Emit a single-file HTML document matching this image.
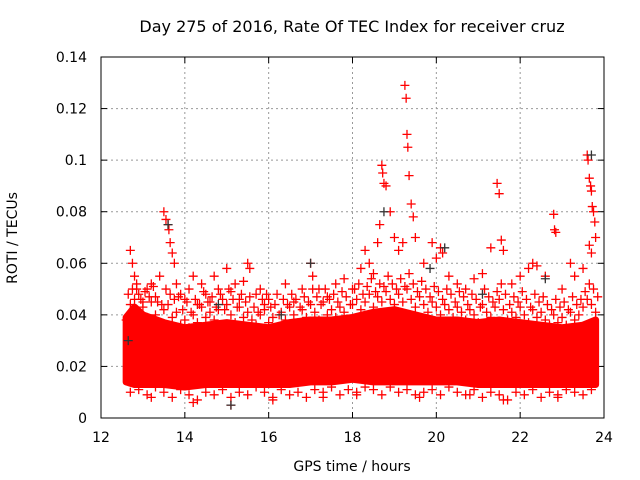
<!DOCTYPE html>
<html><head><meta charset="utf-8"><style>
body{margin:0;background:#fff;}
svg{display:block;font-family:"DejaVu Sans","Liberation Sans",sans-serif;}
</style></head><body>
<svg id="chart" width="640" height="480" viewBox="0 0 640 480">
<text x="352" y="32" text-anchor="middle" font-size="16">Day 275 of 2016, Rate Of TEC Index for receiver cruz</text>
<text x="352" y="471" text-anchor="middle" font-size="14">GPS time / hours</text>
<text transform="translate(17,238) rotate(-90)" text-anchor="middle" font-size="14">ROTI / TECUs</text>
<g id="grid"></g><g id="ticks"></g><g id="marks"></g>
<rect x="101" y="57" width="503" height="361" fill="none" stroke="#000" stroke-width="1"/>
</svg>
<script>
const xTicks=[12,14,16,18,20,22,24];
const yTicks=[0,0.02,0.04,0.06,0.08,0.1,0.12,0.14];
const yTickLabels=["0","0.02","0.04","0.06","0.08","0.1","0.12","0.14"];
const envHours=[12.6,12.8,13,13.5,14,14.5,15,15.5,16,16.5,17,17.5,18,18.5,19,19.5,20,20.5,21,21.5,22,22.5,23,23.5,23.8];
const envLow=[0.014,0.013,0.013,0.013,0.012,0.013,0.013,0.013,0.013,0.013,0.014,0.014,0.015,0.014,0.014,0.014,0.014,0.014,0.013,0.013,0.013,0.013,0.013,0.013,0.013];
const envHigh=[0.039,0.043,0.040,0.037,0.035,0.036,0.037,0.036,0.035,0.037,0.038,0.038,0.039,0.041,0.042,0.040,0.038,0.038,0.037,0.038,0.037,0.036,0.035,0.036,0.038];
const fringeHours=[12.6,12.7,12.8,12.9,13.0,13.1,13.2,13.3,13.4,13.5,13.6,13.7,13.8,13.9,14.0,14.1,14.2,14.3,14.4,14.5,14.6,14.7,14.8,14.9,15.0,15.1,15.2,15.3,15.4,15.5,15.6,15.7,15.8,15.9,16.0,16.1,16.2,16.3,16.4,16.5,16.6,16.7,16.8,16.9,17.0,17.1,17.2,17.3,17.4,17.5,17.6,17.7,17.8,17.9,18.0,18.1,18.2,18.3,18.4,18.5,18.6,18.7,18.8,18.9,19.0,19.1,19.2,19.3,19.4,19.5,19.6,19.7,19.8,19.9,20.0,20.1,20.2,20.3,20.4,20.5,20.6,20.7,20.8,20.9,21.0,21.1,21.2,21.3,21.4,21.5,21.6,21.7,21.8,21.9,22.0,22.1,22.2,22.3,22.4,22.5,22.6,22.7,22.8,22.9,23.0,23.1,23.2,23.3,23.4,23.5,23.6,23.7,23.8];
const fringeVals=[0.038,0.044,0.046,0.041,0.043,0.039,0.045,0.040,0.037,0.042,0.044,0.039,0.041,0.036,0.038,0.035,0.040,0.037,0.043,0.039,0.041,0.038,0.042,0.036,0.044,0.040,0.037,0.043,0.039,0.041,0.038,0.036,0.040,0.042,0.037,0.039,0.035,0.041,0.038,0.043,0.040,0.037,0.042,0.039,0.044,0.041,0.038,0.045,0.040,0.042,0.039,0.043,0.041,0.038,0.044,0.046,0.042,0.045,0.048,0.043,0.047,0.045,0.049,0.046,0.044,0.048,0.045,0.050,0.046,0.043,0.047,0.044,0.041,0.045,0.043,0.040,0.044,0.042,0.039,0.043,0.041,0.038,0.042,0.040,0.037,0.044,0.041,0.039,0.043,0.046,0.042,0.038,0.041,0.039,0.043,0.040,0.037,0.042,0.039,0.041,0.038,0.036,0.040,0.037,0.039,0.036,0.041,0.038,0.040,0.043,0.046,0.044,0.041];
const fringe2Vals=[0.048,0.050,0.052,0.046,0.049,0.047,0.051,0.045,0.044,0.050,0.048,0.046,0.047,0.042,0.045,0.041,0.046,0.044,0.049,0.045,0.047,0.043,0.048,0.042,0.050,0.046,0.043,0.048,0.045,0.047,0.043,0.041,0.046,0.048,0.043,0.044,0.040,0.046,0.044,0.048,0.046,0.043,0.047,0.045,0.050,0.047,0.044,0.050,0.046,0.048,0.045,0.049,0.047,0.044,0.050,0.052,0.048,0.051,0.054,0.049,0.052,0.051,0.055,0.052,0.050,0.054,0.051,0.056,0.052,0.049,0.053,0.050,0.047,0.051,0.049,0.046,0.050,0.048,0.045,0.049,0.047,0.044,0.048,0.046,0.043,0.050,0.047,0.045,0.049,0.052,0.048,0.044,0.047,0.045,0.049,0.046,0.043,0.048,0.045,0.047,0.044,0.042,0.046,0.043,0.045,0.042,0.047,0.044,0.046,0.049,0.052,0.050,0.047];
const lowHours=[12.7,12.9,13.1,13.3,13.5,13.7,13.9,14.1,14.3,14.5,14.7,14.9,15.1,15.3,15.5,15.7,15.9,16.1,16.3,16.5,16.7,16.9,17.1,17.3,17.5,17.7,17.9,18.1,18.3,18.5,18.7,18.9,19.1,19.3,19.5,19.7,19.9,20.1,20.3,20.5,20.7,20.9,21.1,21.3,21.5,21.7,21.9,22.1,22.3,22.5,22.7,22.9,23.1,23.3,23.5,23.7];
const lowVals=[0.010,0.011,0.009,0.012,0.010,0.008,0.011,0.009,0.007,0.010,0.009,0.011,0.008,0.010,0.009,0.012,0.010,0.008,0.011,0.009,0.010,0.008,0.011,0.010,0.012,0.009,0.011,0.010,0.012,0.011,0.009,0.012,0.010,0.011,0.009,0.010,0.011,0.009,0.012,0.010,0.009,0.011,0.008,0.010,0.009,0.007,0.010,0.009,0.011,0.008,0.010,0.009,0.011,0.010,0.009,0.011];
const ptHours=[12.7,12.75,12.8,12.85,12.9,13.0,13.1,13.2,13.3,13.4,13.5,13.55,13.6,13.62,13.65,13.7,13.75,13.8,13.9,14.0,14.1,14.2,14.3,14.4,14.5,14.6,14.7,14.8,14.9,15.0,15.1,15.2,15.3,15.4,15.5,15.55,15.7,15.8,15.9,16.0,16.2,16.4,16.6,16.8,17.0,17.05,17.2,17.4,17.6,17.8,18.0,18.2,18.3,18.4,18.5,18.6,18.65,18.7,18.72,18.75,18.8,18.9,19.0,19.1,19.2,19.25,19.28,19.3,19.32,19.35,19.4,19.45,19.5,19.7,19.9,20.0,20.1,20.15,20.3,20.5,20.7,20.9,21.1,21.3,21.45,21.5,21.55,21.6,21.8,22.0,22.2,22.3,22.4,22.6,22.8,22.82,22.85,23.0,23.2,23.3,23.5,23.6,23.62,23.65,23.68,23.7,23.72,23.75,23.78,23.8,23.65,23.7,14.2,15.1,16.1,17.3,19.6,20.8,21.6,22.9,13.2,18.1];
const ptVals=[0.065,0.06,0.055,0.05,0.048,0.045,0.05,0.052,0.047,0.055,0.080,0.077,0.075,0.073,0.068,0.064,0.060,0.052,0.048,0.046,0.050,0.055,0.044,0.052,0.048,0.045,0.055,0.050,0.046,0.058,0.049,0.052,0.046,0.053,0.060,0.058,0.048,0.050,0.044,0.046,0.048,0.052,0.045,0.050,0.060,0.055,0.050,0.047,0.052,0.054,0.050,0.058,0.065,0.060,0.056,0.068,0.075,0.098,0.095,0.091,0.090,0.080,0.070,0.065,0.068,0.129,0.124,0.110,0.105,0.094,0.083,0.078,0.070,0.060,0.068,0.062,0.066,0.064,0.055,0.052,0.050,0.054,0.056,0.066,0.091,0.087,0.069,0.065,0.052,0.055,0.058,0.060,0.059,0.055,0.079,0.073,0.072,0.050,0.060,0.055,0.058,0.102,0.100,0.093,0.090,0.088,0.082,0.080,0.076,0.070,0.067,0.064,0.006,0.005,0.007,0.008,0.008,0.009,0.007,0.008,0.008,0.009];
const darkHours=[12.65,13.6,15.1,17.0,18.75,19.85,20.2,21.1,22.6,23.7,16.3,14.8];
const darkVals=[0.030,0.075,0.005,0.060,0.080,0.058,0.066,0.048,0.054,0.102,0.040,0.044];
const NS="http://www.w3.org/2000/svg";
function xs(h){return 101+(h-12)*(503/12);}
function ys(v){return 418-v*(361/0.14);}
const grid=document.getElementById('grid'),ticks=document.getElementById('ticks'),marks=document.getElementById('marks');
function mk(t,a,p){const e=document.createElementNS(NS,t);for(const k in a)e.setAttribute(k,a[k]);p.appendChild(e);return e;}
xTicks.forEach((t,i)=>{
 const x=xs(t);
 if(i>0&&i<xTicks.length-1){const g=mk('line',{x1:x,y1:57,x2:x,y2:418,stroke:'#999','stroke-dasharray':'2,3'},grid);
 
 }
 mk('line',{x1:x,y1:418,x2:x,y2:412,stroke:'#000'},ticks);mk('line',{x1:x,y1:57,x2:x,y2:63,stroke:'#000'},ticks);
 const l=mk('text',{x:x,y:442,'text-anchor':'middle','font-size':14},ticks);l.textContent=t;
 
 
});
yTicks.forEach((t,i)=>{
 const y=ys(t);
 if(i>0&&i<yTicks.length-1){const g=mk('line',{x1:101,y1:y,x2:604,y2:y,stroke:'#999','stroke-dasharray':'2,3'},grid);
 
 }
 mk('line',{x1:101,y1:y,x2:107,y2:y,stroke:'#000'},ticks);mk('line',{x1:604,y1:y,x2:598,y2:y,stroke:'#000'},ticks);
 const l=mk('text',{x:87,y:y+5,'text-anchor':'end','font-size':14},ticks);l.textContent=yTickLabels[i];
 
 
});
let pts=envHours.map((h,i)=>xs(h)+','+ys(envHigh[i]));
for(let i=envHours.length-1;i>=0;i--)pts.push(xs(envHours[i])+','+ys(envLow[i]));
const band=mk('polygon',{points:pts.join(' '),fill:'#f00',stroke:'#f00','stroke-width':7,'stroke-linejoin':'round'},marks);


function plus(h,v,c,name){
 const x=xs(h),y=ys(v);
 const p=mk('path',{d:`M${x-4.5},${y}H${x+4.5}M${x},${y-4.5}V${y+4.5}`,stroke:c,'stroke-width':1.3,fill:'none'},marks);
 
 
}
fringeHours.forEach((h,i)=>plus(h,fringeVals[i],'#f00','roti-point'));
fringeHours.forEach((h,i)=>plus(h+0.05,fringe2Vals[i],'#f00','roti-point'));
lowHours.forEach((h,i)=>plus(h,lowVals[i],'#f00','roti-point'));
ptHours.forEach((h,i)=>plus(h,ptVals[i],'#f00','roti-point'));
darkHours.forEach((h,i)=>plus(h,darkVals[i],'#333','roti-point-dark'));
</script>
</body></html>
